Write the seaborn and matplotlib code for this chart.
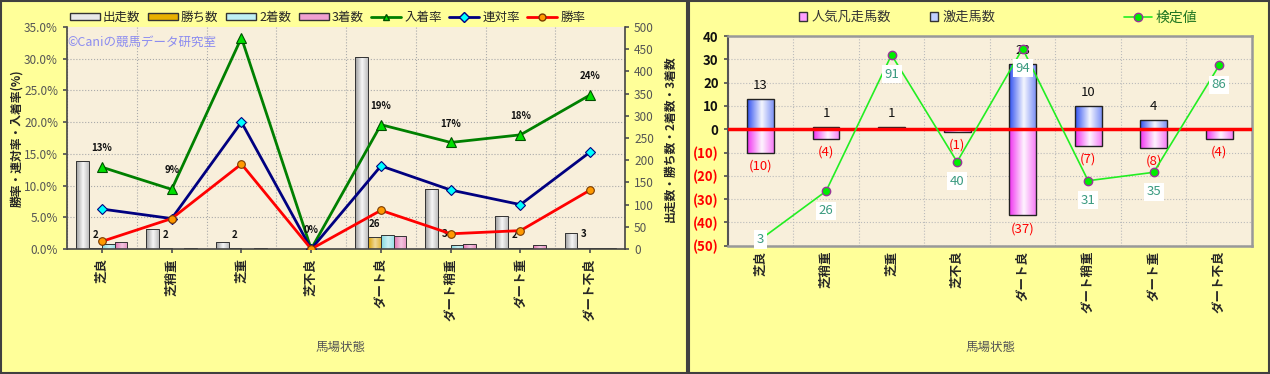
import numpy as np
import pandas as pd
import matplotlib
matplotlib.use('Agg')
import matplotlib.pyplot as plt
import matplotlib.colors as mcolors
from matplotlib.lines import Line2D
from matplotlib.patches import Patch, Rectangle
import seaborn as sns

sns.set_theme(style='white')
plt.rcParams['font.family'] = ['Noto Sans CJK JP', 'DejaVu Sans']

# 馬場状態
conditions = ['芝良', '芝稍重', '芝重', '芝不良', 'ダート良', 'ダート稍重', 'ダート重', 'ダート不良']

# 左のグラフ: 頭数 (右軸) と率 (左軸, %)
starts = [198, 45, 15, 1, 432, 135, 75, 35]
wins = [2, 2, 2, 0, 26, 3, 2, 3]
seconds = [11, 0, 1, 0, 32, 10, 3, 2]
thirds = [15, 2, 2, 0, 29, 12, 9, 3]
place_rate = [12.9, 9.4, 33.3, 0.0, 19.6, 16.8, 18.0, 24.3]
rentai_rate = [6.3, 4.8, 20.0, 0.0, 13.1, 9.3, 7.0, 15.3]
win_rate = [1.2, 4.8, 13.4, 0.0, 6.1, 2.4, 2.9, 9.3]
place_labels = ['13%', '9%', '33%', '0%', '19%', '17%', '18%', '24%']

# 右のグラフ: 激走馬数 / 人気凡走馬数 と 検定値
gekisou = [13, 1, 1, 0, 28, 10, 4, 0]
bonsou = [-10, -4, 0, -1, -37, -7, -8, -4]
kentei = [3, 26, 91, 40, 94, 31, 35, 86]

BG = '#FFFF99'
PLOT_BG = '#F8EFDB'


def cylinder(ax, container, color, light=0.9):
    # 棒をExcel風の円柱グラデーションにする
    base = np.array(mcolors.to_rgb(color))
    t = np.linspace(0, 1, 64)
    w = np.where(t < 0.55, t / 0.55, 1 - (t - 0.55) / 0.45 * 0.6) * light
    img = (base[None, :] * (1 - w[:, None]) + w[:, None])[None, :, :]
    for p in container:
        h = p.get_height()
        if not h or np.isnan(h):
            continue
        x0, y0, wd = p.get_x(), p.get_y(), p.get_width()
        im = ax.imshow(img, extent=[x0, x0 + wd, y0, y0 + h], aspect='auto',
                       origin='lower', zorder=p.get_zorder() - 0.1,
                       interpolation='bilinear')
        im.set_clip_path(p)
        p.set_facecolor('none')


fig = plt.figure(figsize=(12.7, 3.74), dpi=100, facecolor=BG)

# ---------------- 左のグラフ ----------------
ax_bar = fig.add_axes([0.0528, 0.3342, 0.4394, 0.5936])
ax_bar.set_facecolor(PLOT_BG)

df_left = pd.DataFrame({'馬場状態': conditions, '出走数': starts, '勝ち数': wins,
                        '2着数': seconds, '3着数': thirds})
df_left = df_left.melt(id_vars='馬場状態', var_name='区分', value_name='頭数')
bar_order = ['出走数', '勝ち数', '2着数', '3着数']
bar_colors = {'出走数': '#9A9A9A', '勝ち数': '#D9A000', '2着数': '#7FD8E0', '3着数': '#E070B0'}

sns.barplot(data=df_left, x='馬場状態', y='頭数', hue='区分', hue_order=bar_order,
            palette=bar_colors, width=0.73, edgecolor='#333333', linewidth=0.7,
            errorbar=None, legend=False, ax=ax_bar)
for cont, name in zip(ax_bar.containers, bar_order):
    cylinder(ax_bar, cont, bar_colors[name], light=0.92 if name == '出走数' else 0.6)

# 勝ち数のラベル
for p, v in zip(ax_bar.containers[1], wins):
    if v > 0:
        ax_bar.annotate(str(v), (p.get_x() + p.get_width() / 2, v), xytext=(0, 6),
                        textcoords='offset points', ha='center', va='bottom',
                        fontsize=7, fontweight='bold', color='#111111')

ax_line = ax_bar.twinx()

ax_bar.set_ylim(0, 500)
ax_bar.set_xlim(-0.5, 7.5)
ax_bar.yaxis.tick_right()
ax_bar.set_yticks(np.arange(0, 501, 50))
ax_bar.set_yticks(np.linspace(0, 500, 8), minor=True)
ax_bar.set_xticks(np.arange(-0.5, 8, 1), minor=True)
ax_bar.grid(which='minor', color='#AAAAAA', linestyle=':', linewidth=0.8)
ax_bar.set_axisbelow(True)
ax_bar.tick_params(axis='y', which='major', labelsize=8.5, labelcolor='#555555',
                   length=3, color='#555555', right=True, left=False,
                   labelright=True, labelleft=False)
ax_bar.tick_params(which='minor', length=0)
ax_bar.set_xticks(range(len(conditions)))
ax_bar.set_xticklabels(conditions, rotation=90, fontsize=9, fontweight='bold')
ax_bar.tick_params(axis='x', which='major', length=3, color='#555555', bottom=True)
ax_bar.set_xlabel('')
ax_bar.set_ylabel('')
for s in ['left', 'right', 'bottom']:
    ax_bar.spines[s].set_color('#444444')
    ax_bar.spines[s].set_linewidth(1.2)
ax_bar.spines['top'].set_visible(False)

line_specs = [
    (place_rate, '#008000', '^', '#00E000', '#005000'),
    (rentai_rate, '#000080', 'D', '#00FFFF', '#000080'),
    (win_rate, '#FF0000', 'o', '#FF9900', '#7A3A00'),
]
for vals, lc, mk, mfc, mec in line_specs:
    sns.pointplot(x=conditions, y=vals, color=lc, markers=mk, linewidth=2,
                  markersize=6.5 if mk == '^' else 5.5, errorbar=None, ax=ax_line)
    ln = ax_line.lines[-1]
    ln.set_markerfacecolor(mfc)
    ln.set_markeredgecolor(mec)
    ln.set_markeredgewidth(0.8)

for i, (v, lbl) in enumerate(zip(place_rate, place_labels)):
    ax_line.annotate(lbl, (i, v), xytext=(0, 10), textcoords='offset points',
                     ha='center', va='bottom', fontsize=7, fontweight='bold', color='#111111')

ax_line.set_ylim(0, 35)
ax_line.set_xlim(-0.5, 7.5)
ax_line.yaxis.tick_left()
ax_line.set_yticks(np.arange(0, 36, 5))
ax_line.set_yticklabels([f'{v:.1f}%' for v in np.arange(0, 36, 5)])
ax_line.tick_params(axis='y', labelsize=8.5, labelcolor='#555555', length=3,
                    color='#555555', left=True, right=False,
                    labelleft=True, labelright=False)
ax_line.set_ylabel('')
ax_line.set_xlabel('')
for s in ax_line.spines.values():
    s.set_visible(False)

ax_bar.text(0.0, 0.96, '©Caniの競馬データ研究室', transform=ax_bar.transAxes,
            fontsize=9, color='#8C8CF0', va='top', ha='left')

fig.text(0.013, 0.63, '勝率・連対率・入着率(%)', rotation=90, ha='center', va='center',
         fontsize=8.5, fontweight='bold')
fig.text(0.5276, 0.63, '出走数・勝ち数・2着数・3着数', rotation=90, ha='center', va='center',
         fontsize=8.5, fontweight='bold')
fig.text(0.268, 0.07, '馬場状態', ha='center', va='center', fontsize=9, color='#555555')

left_handles = [Patch(facecolor='#E8E8E8', edgecolor='#333333'),
                Patch(facecolor='#E8B000', edgecolor='#333333'),
                Patch(facecolor='#BFF0F4', edgecolor='#333333'),
                Patch(facecolor='#F0A0D0', edgecolor='#333333')]
for vals, lc, mk, mfc, mec in line_specs:
    left_handles.append(Line2D([], [], color=lc, lw=2, marker=mk, markersize=5,
                               markerfacecolor=mfc, markeredgecolor=mec))
left_labels = ['出走数', '勝ち数', '2着数', '3着数', '入着率', '連対率', '勝率']
fig.legend(left_handles, left_labels, loc='center', bbox_to_anchor=(0.258, 0.953),
           ncol=7, frameon=True, facecolor=BG, edgecolor='none', framealpha=1,
           fontsize=9, handlelength=2.4, handleheight=0.45, columnspacing=0.6,
           handletextpad=0.25, borderpad=0.15)

# ---------------- 右のグラフ ----------------
ax_r = fig.add_axes([0.573, 0.343, 0.4128, 0.5607])
ax_r.set_facecolor(PLOT_BG)
sns.barplot(x=conditions, y=gekisou, color='#3050F0', width=0.41, edgecolor='#222222',
            linewidth=1.0, errorbar=None, ax=ax_r)
sns.barplot(x=conditions, y=bonsou, color='#F030F0', width=0.41, edgecolor='#222222',
            linewidth=1.0, errorbar=None, ax=ax_r)
cylinder(ax_r, ax_r.containers[0], '#3050F0', light=0.95)
cylinder(ax_r, ax_r.containers[1], '#F030F0', light=0.95)

for i, v in enumerate(gekisou):
    if v > 0:
        ax_r.annotate(str(v), (i, v), xytext=(0, 5), textcoords='offset points',
                      ha='center', va='bottom', fontsize=9.5, color='#111111')
for i, v in enumerate(bonsou):
    if v < 0:
        ax_r.annotate(f'({-v})', (i, v), xytext=(0, -5), textcoords='offset points',
                      ha='center', va='top', fontsize=9.5, color='#FF0000')

ax_r.axhline(0, color='#FF0000', lw=2.5, zorder=3)
ax_r.set_ylim(-50, 40)
ax_r.set_xlim(-0.5, 7.5)
r_ticks = np.arange(-50, 41, 10)
ax_r.set_yticks(r_ticks)
ax_r.set_yticklabels([str(v) if v >= 0 else f'({-v})' for v in r_ticks],
                     fontsize=9.5, fontweight='bold')
for lbl, v in zip(ax_r.get_yticklabels(), r_ticks):
    lbl.set_color('#FF0000' if v < 0 else '#111111')
ax_r.set_xticks(range(len(conditions)))
ax_r.set_xticklabels(conditions, rotation=90, fontsize=9, fontweight='bold')
ax_r.set_xticks(np.arange(-0.5, 8, 1), minor=True)
ax_r.grid(which='major', axis='y', color='#BBBBBB', linestyle=':', linewidth=0.8)
ax_r.grid(which='minor', axis='x', color='#BBBBBB', linestyle=':', linewidth=0.8)
ax_r.set_axisbelow(True)
ax_r.tick_params(axis='y', length=3, color='#555555', left=True)
ax_r.tick_params(axis='x', length=0)
ax_r.tick_params(which='minor', length=0)
for s in ax_r.spines.values():
    s.set_color('#999999')
    s.set_linewidth(1.8)
ax_r.spines['left'].set_color('#555555')
ax_r.spines['left'].set_linewidth(1.5)

ax_k = ax_r.twinx()
sns.pointplot(x=conditions, y=kentei, color='#22EE22', markers='o', linewidth=1.2,
              markersize=6, errorbar=None, ax=ax_k)
kl = ax_k.lines[-1]
kl.set_markerfacecolor('#00EE00')
kl.set_markeredgecolor('#993399')
kl.set_markeredgewidth(1.0)
ax_k.set_ylim(0, 100)
ax_k.set_xlim(-0.5, 7.5)
ax_k.set_yticks([])
ax_k.set_ylabel('')
for s in ax_k.spines.values():
    s.set_visible(False)
for i, v in enumerate(kentei):
    dy = -14 if v >= 15 else 0
    ax_k.annotate(str(v), (i, v), xytext=(0, dy), textcoords='offset points',
                  ha='center', va='center', fontsize=9.5, color='#3A9A80',
                  bbox=dict(boxstyle='square,pad=0.2', facecolor='white', edgecolor='none'),
                  zorder=5)

fig.text(0.78, 0.07, '馬場状態', ha='center', va='center', fontsize=9, color='#555555')

bar_handles = [Patch(facecolor='#FFA0FF', edgecolor='#333333'),
               Patch(facecolor='#C0D0FF', edgecolor='#333333')]
fig.legend(bar_handles, ['人気凡走馬数', '激走馬数'], loc='center left',
           bbox_to_anchor=(0.62, 0.953), ncol=2, frameon=False, fontsize=9.5,
           handlelength=0.6, handleheight=0.6, columnspacing=3.0, handletextpad=0.3,
           labelcolor='#333333')
k_handle = [Line2D([], [], color='#22EE22', lw=1.2, marker='o', markersize=6,
                   markerfacecolor='#00EE00', markeredgecolor='#993399')]
fig.legend(k_handle, ['検定値'], loc='center left', bbox_to_anchor=(0.875, 0.953),
           frameon=False, fontsize=10, handlelength=2.0, handletextpad=0.3,
           labelcolor='#227722')

# 枠線
fig.patches.append(Rectangle((0.001, 0.003), 686 / 1270, 0.994, transform=fig.transFigure,
                             fill=False, edgecolor='#404040', lw=1.5))
fig.patches.append(Rectangle((689 / 1270, 0.003), 580 / 1270, 0.994,
                             transform=fig.transFigure, fill=False, edgecolor='#404040', lw=1.5))

fig.savefig('out.png', dpi=100, facecolor=BG)
